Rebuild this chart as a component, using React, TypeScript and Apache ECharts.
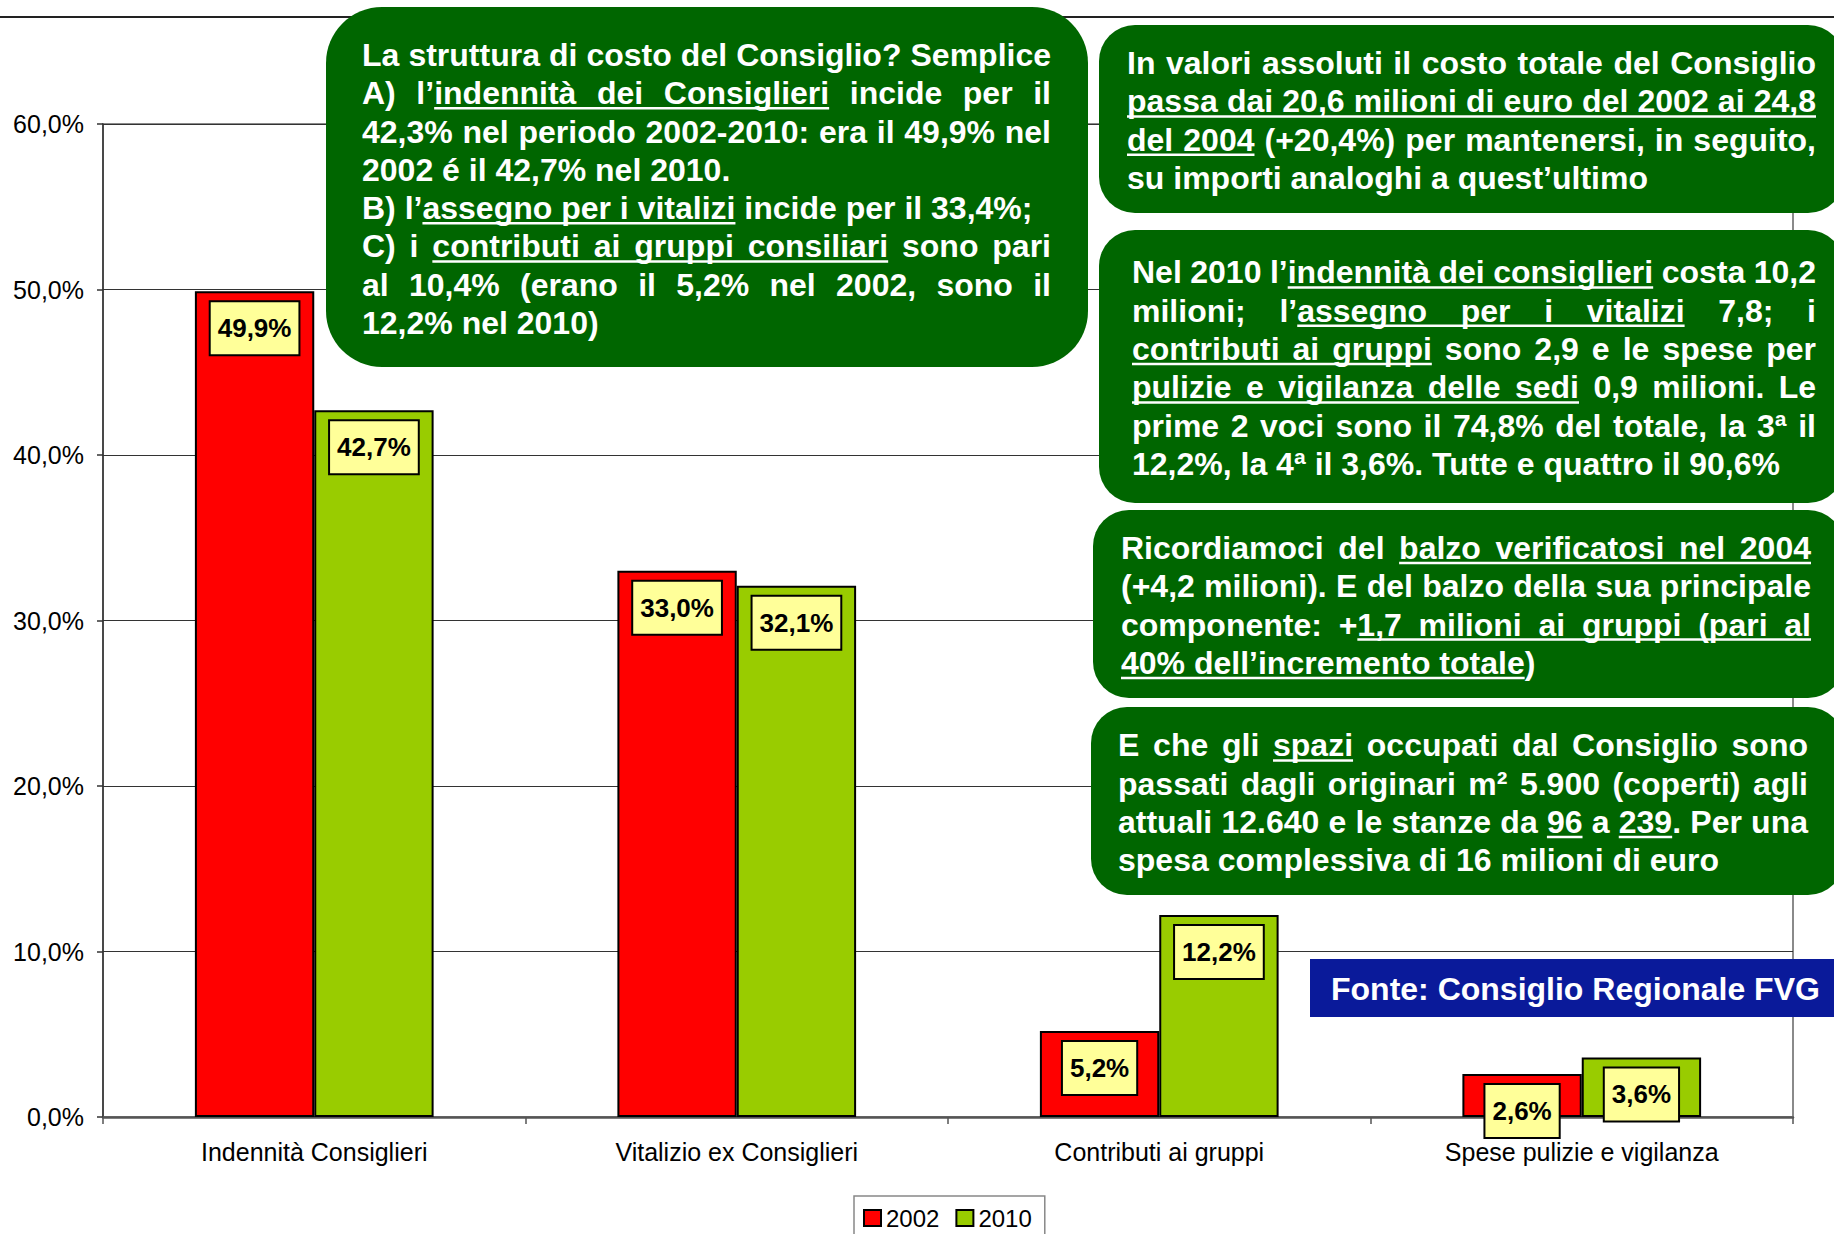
import React, { useEffect, useRef } from 'react';
import * as echarts from 'echarts';

// ---------- data ----------
const categories = [
  'Indennità Consiglieri',
  'Vitalizio ex Consiglieri',
  'Contributi ai gruppi',
  'Spese pulizie e vigilanza',
];
const seriesNames = ['2002', '2010'];
const values2002 = [49.9, 33.0, 5.2, 2.6];
const values2010 = [42.7, 32.1, 12.2, 3.6];
const yMin = 0;
const yMax = 60;
const yStep = 10;

type Seg = string | { u: string };
type Line = { j: boolean; s: Seg[] };

const note1: Line[] = [
  { j: true, s: ['La struttura di costo del Consiglio? Semplice'] },
  { j: true, s: ['A) l’', { u: 'indennità dei Consiglieri' }, ' incide per il'] },
  { j: true, s: ['42,3% nel periodo 2002-2010: era il 49,9% nel'] },
  { j: false, s: ['2002 é il 42,7% nel 2010.'] },
  { j: false, s: ['B) l’', { u: 'assegno per i vitalizi' }, ' incide per il 33,4%;'] },
  { j: true, s: ['C) i ', { u: 'contributi ai gruppi consiliari' }, ' sono pari'] },
  { j: true, s: ['al 10,4% (erano il 5,2% nel 2002, sono il'] },
  { j: false, s: ['12,2% nel 2010)'] },
];
const note2: Line[] = [
  { j: true, s: ['In valori assoluti il costo totale del Consiglio'] },
  { j: true, s: [{ u: 'passa dai 20,6 milioni di euro del 2002 ai 24,8' }] },
  { j: true, s: [{ u: 'del 2004' }, ' (+20,4%) per mantenersi, in seguito,'] },
  { j: false, s: ['su importi analoghi a quest’ultimo'] },
];
const note3: Line[] = [
  { j: true, s: ['Nel 2010 l’', { u: 'indennità dei consiglieri' }, ' costa 10,2'] },
  { j: true, s: ['milioni; l’', { u: 'assegno per i vitalizi' }, ' 7,8; i'] },
  { j: true, s: [{ u: 'contributi ai gruppi' }, ' sono 2,9 e le spese per'] },
  { j: true, s: [{ u: 'pulizie e vigilanza delle sedi' }, ' 0,9 milioni. Le'] },
  { j: true, s: ['prime 2 voci sono il 74,8% del totale, la 3ª il'] },
  { j: false, s: ['12,2%, la 4ª il 3,6%. Tutte e quattro il 90,6%'] },
];
const note4: Line[] = [
  { j: true, s: ['Ricordiamoci del ', { u: 'balzo verificatosi nel 2004' }] },
  { j: true, s: ['(+4,2 milioni). E del balzo della sua principale'] },
  { j: true, s: ['componente: +', { u: '1,7 milioni ai gruppi (pari al' }] },
  { j: false, s: [{ u: '40% dell’incremento totale' }, ')'] },
];
const note5: Line[] = [
  { j: true, s: ['E che gli ', { u: 'spazi' }, ' occupati dal Consiglio sono'] },
  { j: true, s: ['passati dagli originari m² 5.900 (coperti) agli'] },
  { j: true, s: ['attuali 12.640 e le stanze da ', { u: '96' }, ' a ', { u: '239' }, '. Per una'] },
  { j: false, s: ['spesa complessiva di 16 milioni di euro'] },
];
const sourceText = 'Fonte: Consiglio Regionale FVG';

// ---------- helpers ----------
const FF = "'Liberation Sans', Arial, Helvetica, sans-serif";
const NOTE_SIZE = 32;
const CENTRAL = 0.3465; // central baseline offset (em) above alphabetic baseline

function pct(v: number) {
  return v.toFixed(1).replace('.', ',') + '%';
}

function textEl(text: string, x: number, baseline: number, size: number) {
  return {
    type: 'text',
    x,
    y: baseline - CENTRAL * size,
    z: 60,
    silent: true,
    style: {
      text,
      fill: '#ffffff',
      fontSize: size,
      fontWeight: 'bold',
      fontFamily: FF,
      textAlign: 'left',
      textVerticalAlign: 'middle',
      align: 'left',
      verticalAlign: 'middle',
    },
  };
}

function layoutNote(
  lines: Line[],
  left: number,
  width: number,
  base0: number,
  lh: number,
  measure: (t: string) => number,
  els: any[]
) {
  lines.forEach((line, i) => {
    const base = base0 + i * lh;
    const words: { t: string; u: boolean }[][] = [];
    const spU: boolean[] = [];
    let cur: { t: string; u: boolean }[] = [];
    line.s.forEach((seg) => {
      const text = typeof seg === 'string' ? seg : seg.u;
      const u = typeof seg !== 'string';
      for (const ch of text) {
        if (ch === ' ') {
          if (cur.length) {
            words.push(cur);
            cur = [];
            spU.push(u);
          }
        } else {
          const last = cur[cur.length - 1];
          if (last && last.u === u) last.t += ch;
          else cur.push({ t: ch, u });
        }
      }
    });
    if (cur.length) words.push(cur);
    const ww = words.map((w) => w.reduce((a, r) => a + measure(r.t), 0));
    const total = ww.reduce((a, b) => a + b, 0);
    const gap =
      line.j && words.length > 1 ? (width - total) / (words.length - 1) : measure(' ');
    let x = left;
    const ints: [number, number][] = [];
    words.forEach((w, wi) => {
      let rx = x;
      w.forEach((r) => {
        const rw = measure(r.t);
        els.push(textEl(r.t, rx, base, NOTE_SIZE));
        if (r.u) ints.push([rx, rx + rw]);
        rx += rw;
      });
      x += ww[wi];
      if (wi < words.length - 1) {
        if (spU[wi] && w[w.length - 1].u && words[wi + 1][0].u) ints.push([x, x + gap]);
        x += gap;
      }
    });
    ints.sort((a, b) => a[0] - b[0]);
    const merged: [number, number][] = [];
    ints.forEach((it) => {
      const last = merged[merged.length - 1];
      if (last && it[0] <= last[1] + 0.6) last[1] = Math.max(last[1], it[1]);
      else merged.push([it[0], it[1]]);
    });
    merged.forEach(([a, b]) => {
      els.push({
        type: 'line',
        z: 60,
        silent: true,
        shape: { x1: a, y1: base + 4, x2: b, y2: base + 4 },
        style: { stroke: '#ffffff', lineWidth: 2.5 },
      });
    });
  });
}

function buildGraphics() {
  const canvas = document.createElement('canvas');
  const ctx = canvas.getContext('2d') as CanvasRenderingContext2D;
  ctx.font = `bold ${NOTE_SIZE}px ${FF}`;
  const measure = (t: string) => ctx.measureText(t).width;

  const els: any[] = [];
  // top slide line
  els.push({
    type: 'line',
    z: 40,
    silent: true,
    shape: { x1: 0, y1: 17, x2: 1834, y2: 17 },
    style: { stroke: '#222222', lineWidth: 2 },
  });

  const green = '#006600';
  const boxes = [
    { x: 326, y: 7, w: 762, h: 360, r: 56 },
    { x: 1099, y: 25, w: 745, h: 188, r: 36 },
    { x: 1099, y: 230, w: 745, h: 273, r: 36 },
    { x: 1093, y: 510, w: 751, h: 188, r: 36 },
    { x: 1091, y: 707, w: 753, h: 188, r: 36 },
  ];
  boxes.forEach((b) => {
    els.push({
      type: 'rect',
      z: 50,
      silent: true,
      shape: { x: b.x, y: b.y, width: b.w, height: b.h, r: b.r },
      style: { fill: green },
    });
  });

  layoutNote(note1, 362, 689, 66, 38.3, measure, els);
  layoutNote(note2, 1127, 689, 74, 38.4, measure, els);
  layoutNote(note3, 1132, 684, 283.5, 38.3, measure, els);
  layoutNote(note4, 1121, 690, 559, 38.3, measure, els);
  layoutNote(note5, 1118, 690, 756.5, 38.2, measure, els);

  // source box
  els.push({
    type: 'rect',
    z: 50,
    silent: true,
    shape: { x: 1310, y: 959, width: 540, height: 58 },
    style: { fill: '#0A1A9A' },
  });
  els.push(textEl(sourceText, 1331, 1000, 32));
  return els;
}

function buildOption(): any {
  const labelCfg = {
    show: true,
    position: 'insideTop',
    distance: 11,
    formatter: (p: any) => pct(p.value),
    backgroundColor: '#FFFF99',
    borderColor: '#000000',
    borderWidth: 2,
    padding: [13, 7, 13, 7],
    fontSize: 26,
    fontWeight: 'bold',
    color: '#000000',
    fontFamily: FF,
  };
  return {
    animation: false,
    backgroundColor: '#ffffff',
    textStyle: { fontFamily: FF },
    grid: {
      left: 103,
      right: 41,
      top: 124,
      bottom: 117,
      show: true,
      borderColor: '#8a8a8a',
      borderWidth: 2,
      backgroundColor: 'transparent',
    },
    legend: {
      data: seriesNames,
      left: 854,
      top: 1196,
      orient: 'horizontal',
      icon: 'rect',
      itemWidth: 17,
      itemHeight: 16,
      itemGap: 16,
      padding: [10, 13, 10, 9],
      borderColor: '#888888',
      borderWidth: 1.5,
      textStyle: { fontSize: 24, color: '#000000', fontFamily: FF },
    },
    xAxis: {
      type: 'category',
      data: categories,
      axisLine: { lineStyle: { color: '#555555', width: 2.5 } },
      axisTick: { show: true, length: 7, lineStyle: { color: '#555555', width: 1.5 } },
      axisLabel: { fontSize: 25, color: '#000000', margin: 22, fontFamily: FF },
      splitLine: { show: false },
    },
    yAxis: {
      type: 'value',
      min: yMin,
      max: yMax,
      interval: yStep,
      axisLine: { show: true, lineStyle: { color: '#333333', width: 1.5 } },
      axisTick: { show: true, length: 6, lineStyle: { color: '#333333', width: 1.5 } },
      axisLabel: {
        formatter: (v: number) => pct(v),
        fontSize: 25,
        color: '#000000',
        margin: 19,
        fontFamily: FF,
      },
      splitLine: { show: true, lineStyle: { color: '#333333', width: 1 } },
    },
    series: [
      {
        name: seriesNames[0],
        type: 'bar',
        data: values2002,
        barGap: '0%',
        barCategoryGap: '43.5%',
        itemStyle: { color: '#FF0000', borderColor: '#000000', borderWidth: 2 },
        label: labelCfg,
      },
      {
        name: seriesNames[1],
        type: 'bar',
        data: values2010,
        barGap: '0%',
        barCategoryGap: '43.5%',
        itemStyle: { color: '#99CC00', borderColor: '#000000', borderWidth: 2 },
        label: labelCfg,
      },
    ],
    graphic: { elements: buildGraphics() },
  };
}

export default function App() {
  const ref = useRef<HTMLDivElement>(null);
  useEffect(() => {
    if (!ref.current) return;
    const chart = echarts.init(ref.current, null, { renderer: 'svg' });
    chart.setOption(buildOption());
    return () => {
      chart.dispose();
    };
  }, []);
  return (
    <div
      ref={ref}
      style={{
        position: 'fixed',
        left: 0,
        top: 0,
        width: 1834,
        height: 1234,
        background: '#ffffff',
        overflow: 'hidden',
      }}
    />
  );
}
